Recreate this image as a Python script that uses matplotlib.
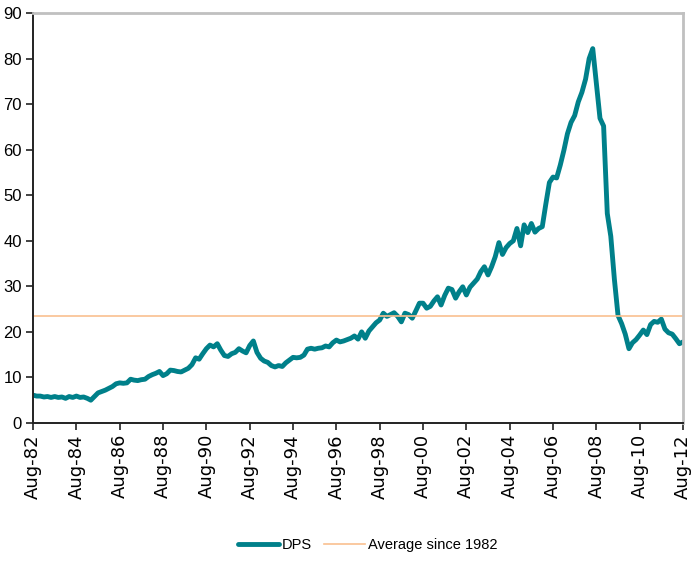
import pandas as pd
import matplotlib
matplotlib.use('Agg')
import matplotlib.pyplot as plt
import matplotlib.dates as mdates

# DPS, read every two months from Aug-82 to Aug-12
dps = [
    6.1, 5.9, 5.9, 5.7, 5.8, 5.6,        # Aug-82 .. Jun-83
    5.8, 5.6, 5.7, 5.4, 5.8, 5.6,        # Aug-83 ..
    5.9, 5.6, 5.7, 5.4, 5.0, 5.8,        # Aug-84 ..
    6.6, 6.9, 7.2, 7.6, 8.0, 8.6,        # Aug-85 ..
    8.8, 8.7, 8.8, 9.6, 9.4, 9.3,        # Aug-86 ..
    9.5, 9.6, 10.2, 10.6, 10.9, 11.3,    # Aug-87 ..
    10.4, 10.8, 11.6, 11.5, 11.3, 11.2,  # Aug-88 ..
    11.6, 12.0, 12.8, 14.3, 14.0, 15.2,  # Aug-89 ..
    16.3, 17.1, 16.7, 17.4, 16.0, 14.8,  # Aug-90 ..
    14.6, 15.2, 15.5, 16.3, 15.8, 15.4,  # Aug-91 ..
    17.0, 18.0, 15.5, 14.2, 13.6, 13.3,  # Aug-92 ..
    12.6, 12.3, 12.6, 12.4, 13.2, 13.8,  # Aug-93 ..
    14.4, 14.3, 14.4, 14.9, 16.2, 16.4,  # Aug-94 ..
    16.2, 16.4, 16.5, 16.9, 16.7, 17.6,  # Aug-95 ..
    18.2, 17.8, 18.0, 18.3, 18.6, 19.1,  # Aug-96 ..
    18.4, 20.0, 18.6, 20.2, 21.1, 22.0,  # Aug-97 ..
    22.6, 24.1, 23.4, 23.8, 24.2, 23.4,  # Aug-98 ..
    22.2, 24.1, 23.8, 23.0, 24.6, 26.3,  # Aug-99 ..
    26.3, 25.2, 25.6, 26.8, 27.7, 25.9,  # Aug-00 ..
    28.0, 29.6, 29.3, 27.4, 28.8, 29.9,  # Aug-01 ..
    28.1, 29.8, 30.7, 31.6, 33.2, 34.3,  # Aug-02 ..
    32.5, 34.3, 36.5, 39.6, 37.0, 38.5,  # Aug-03 ..
    39.4, 40.0, 42.7, 38.9, 43.5, 41.8,  # Aug-04 ..
    43.8, 41.9, 42.7, 43.1, 48.0, 52.8,  # Aug-05 ..
    54.0, 53.8, 56.6, 59.9, 63.5, 66.0,  # Aug-06 ..
    67.5, 70.5, 72.6, 75.5, 80.0, 82.2,  # Aug-07 ..
    74.5, 66.9, 65.2, 46.0, 41.0, 31.5,  # Aug-08 ..
    23.6, 21.8, 19.5, 16.3, 17.6, 18.3,  # Aug-09 ..
    19.3, 20.4, 19.4, 21.6, 22.3, 22.1,  # Aug-10 ..
    22.8, 20.6, 19.8, 19.5, 18.5, 17.4,  # Aug-11 ..
    17.8,                                # Aug-12
]
average_1982 = 23.5

dates = pd.date_range('1982-08-01', '2012-08-01', freq='2MS')
tick_dates = pd.date_range('1982-08-01', '2012-08-01', freq='24MS')

fig = plt.figure(figsize=(6.94, 5.70), dpi=100)
ax = fig.add_axes([0.0476, 0.258, 0.9366, 0.719])

ax.plot(dates, dps, color='#00808A', lw=3.5, label='DPS', solid_capstyle='round')
ax.axhline(average_1982, color='#FAC090', lw=1.2, label='Average since 1982')

ax.set_xlim(dates[0], dates[-1])
ax.set_ylim(0, 90)
ax.set_yticks(range(0, 91, 10))
ax.set_xticks(tick_dates)
ax.xaxis.set_major_formatter(mdates.DateFormatter('%b-%y'))

for lbl in ax.get_yticklabels():
    lbl.set_family('Liberation Sans')
    lbl.set_fontsize(12)
for lbl in ax.get_xticklabels():
    lbl.set_family('DejaVu Sans')
    lbl.set_fontsize(13)
    lbl.set_rotation(90)

ax.tick_params(axis='both', direction='out', length=5, width=1.2, color='#222222')
ax.tick_params(axis='y', pad=3)
ax.tick_params(axis='x', pad=3)

for side in ['left', 'bottom']:
    ax.spines[side].set_color('#222222')
    ax.spines[side].set_linewidth(1.4)
for side in ['top', 'right']:
    ax.spines[side].set_color('#C0C0C0')
    ax.spines[side].set_linewidth(2)

fig.legend(loc='center', bbox_to_anchor=(0.53, 0.044), ncol=2, frameon=False,
           prop={'family': 'Liberation Sans', 'size': 10.5}, handlelength=2.8,
           handletextpad=0.2, columnspacing=0.8)

plt.savefig('out.png', dpi=100)
